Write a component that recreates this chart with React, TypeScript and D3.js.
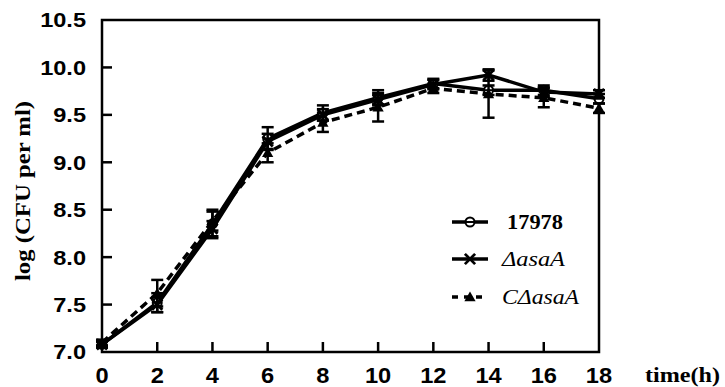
import React, { useEffect, useRef } from "react";
import * as d3 from "d3";

const hours = [0, 2, 4, 6, 8, 10, 12, 14, 16, 18];
const wt = [7.08, 7.52, 8.35, 9.25, 9.52, 9.68, 9.83, 9.76, 9.76, 9.67];
const wtErr = [0.03, 0.1, 0.15, 0.12, 0.08, 0.08, 0.05, 0.05, 0.05, 0.05];
const mutant = [7.08, 7.5, 8.3, 9.22, 9.5, 9.66, 9.82, 9.92, 9.74, 9.72];
const mutantErr = [0.03, 0.08, 0.08, 0.08, 0.06, 0.05, 0.05, 0.06, 0.05, 0.04];
const comp = [7.1, 7.62, 8.38, 9.1, 9.42, 9.58, 9.78, 9.72, 9.68, 9.57];
const compErr = [0.03, 0.14, 0.1, 0.1, 0.1, 0.15, 0.05, 0.25, 0.1, 0.05];
const yTicks = [7.0, 7.5, 8.0, 8.5, 9.0, 9.5, 10.0, 10.5];
const xTicks = [0, 2, 4, 6, 8, 10, 12, 14, 16, 18];

const series = [
  { name: "17978", values: wt, err: wtErr, dash: null, marker: "circle", italic: false },
  { name: "ΔasaA", values: mutant, err: mutantErr, dash: null, marker: "cross", italic: true },
  { name: "CΔasaA", values: comp, err: compErr, dash: "8,5", marker: "triangle", italic: true },
];

const sans = "'Liberation Sans', Arial, sans-serif";
const serif = "'Liberation Serif', 'Times New Roman', serif";

function drawMarker(g, kind, cx, cy) {
  if (kind === "circle") {
    g.append("circle").attr("cx", cx).attr("cy", cy).attr("r", 4.5)
      .attr("fill", "#fff").attr("stroke", "#000").attr("stroke-width", 2);
    g.append("line").attr("x1", cx - 4.5).attr("x2", cx + 4.5).attr("y1", cy).attr("y2", cy)
      .attr("stroke", "#000").attr("stroke-width", 2);
  } else if (kind === "cross") {
    g.append("path").attr("d", d3.symbol(d3.symbolX, 70)()).attr("transform", `translate(${cx},${cy})`)
      .attr("stroke", "#000").attr("stroke-width", 2.8).attr("fill", "none");
  } else {
    g.append("path").attr("d", d3.symbol(d3.symbolTriangle, 55)()).attr("transform", `translate(${cx},${cy + 1})`)
      .attr("fill", "#000");
  }
}

export default function App() {
  const ref = useRef(null);

  useEffect(() => {
    const svg = d3.select(ref.current);
    svg.selectAll("*").remove();

    const left = 102, right = 599, top = 20, bottom = 352;
    const x = d3.scaleLinear().domain([0, 18]).range([left, right]);
    const y = d3.scaleLinear().domain([7, 10.5]).range([bottom, top]);

    // frame
    svg.append("rect").attr("x", left).attr("y", top).attr("width", right - left).attr("height", bottom - top)
      .attr("fill", "none").attr("stroke", "#000").attr("stroke-width", 2.5);

    // inward ticks
    svg.append("g").selectAll("line").data(yTicks.slice(1, -1)).enter().append("line")
      .attr("x1", left).attr("x2", left + 10).attr("y1", d => y(d)).attr("y2", d => y(d))
      .attr("stroke", "#000").attr("stroke-width", 2.5);
    svg.append("g").selectAll("line").data(xTicks.slice(1, -1)).enter().append("line")
      .attr("x1", d => x(d)).attr("x2", d => x(d)).attr("y1", bottom).attr("y2", bottom - 10)
      .attr("stroke", "#000").attr("stroke-width", 2.5);

    // tick labels, slightly wide like the scanned figure
    svg.append("g").selectAll("text").data(yTicks).enter().append("text")
      .attr("transform", d => `translate(86,${y(d)}) scale(1.15,1)`).attr("dy", "0.36em").attr("text-anchor", "end")
      .attr("font-family", sans).attr("font-weight", "bold").attr("font-size", 20.5)
      .text(d => d.toFixed(1));
    svg.append("g").selectAll("text").data(xTicks).enter().append("text")
      .attr("transform", d => `translate(${x(d)},383) scale(1.1,1)`).attr("text-anchor", "middle")
      .attr("font-family", sans).attr("font-weight", "bold").attr("font-size", 21.5)
      .text(d => d);

    svg.append("text").attr("transform", "translate(30,191) rotate(-90)").attr("text-anchor", "middle")
      .attr("font-family", serif).attr("font-weight", "bold").attr("font-size", 21)
      .attr("textLength", 180).attr("lengthAdjust", "spacingAndGlyphs")
      .text("log (CFU per ml)");
    svg.append("text").attr("x", 645).attr("y", 382)
      .attr("font-family", serif).attr("font-weight", "bold").attr("font-size", 21)
      .attr("textLength", 75).attr("lengthAdjust", "spacingAndGlyphs")
      .text("time(h)");

    const line = d3.line().x((d, i) => x(hours[i])).y(d => y(d));

    series.forEach(s => {
      const g = svg.append("g");
      // error bars
      s.values.forEach((v, i) => {
        const cx = x(hours[i]);
        const lo = y(v - s.err[i]), hi = y(v + s.err[i]);
        g.append("line").attr("x1", cx).attr("x2", cx).attr("y1", lo).attr("y2", hi)
          .attr("stroke", "#000").attr("stroke-width", 2.5);
        [lo, hi].forEach(yy => g.append("line").attr("x1", cx - 6).attr("x2", cx + 6)
          .attr("y1", yy).attr("y2", yy).attr("stroke", "#000").attr("stroke-width", 2.5));
      });
      g.append("path").attr("d", line(s.values)).attr("fill", "none").attr("stroke", "#000")
        .attr("stroke-width", 3.5).attr("stroke-dasharray", s.dash);
      s.values.forEach((v, i) => drawMarker(g, s.marker, x(hours[i]), y(v)));
    });

    // legend
    const legY = [222, 259, 297];
    const legW = [56, 63, 77];
    series.forEach((s, i) => {
      const g = svg.append("g");
      g.append("line").attr("x1", 452).attr("x2", 488).attr("y1", legY[i]).attr("y2", legY[i])
        .attr("stroke", "#000").attr("stroke-width", 3.5).attr("stroke-dasharray", s.dash ? "6,6" : null);
      drawMarker(g, s.marker, 470, legY[i]);
      g.append("text").attr("x", s.italic ? 502 : 507).attr("y", legY[i]).attr("dy", "0.35em")
        .attr("font-family", serif).attr("font-size", 21)
        .attr("textLength", legW[i]).attr("lengthAdjust", "spacingAndGlyphs")
        .attr("font-weight", s.italic ? "normal" : "bold").attr("font-style", s.italic ? "italic" : "normal")
        .text(s.name);
    });
  }, []);

  return (
    <svg ref={ref} width={725} height={387}
      style={{ position: "absolute", left: 0, top: 0, background: "#fff" }} />
  );
}
